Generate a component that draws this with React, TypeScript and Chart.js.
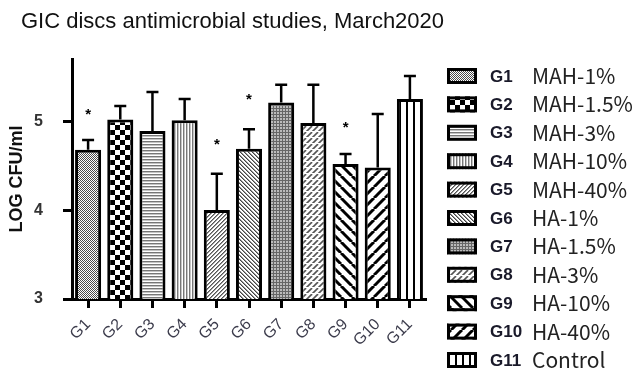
import { useEffect, useRef } from 'react';
import { Chart, registerables } from 'chart.js';
Chart.register(...registerables);

const FONT = '"Liberation Sans", Arial, sans-serif';
const CJK = '"Noto Sans CJK SC", "Noto Sans", sans-serif';

const chartTitle = 'GIC discs antimicrobial studies, March2020';
const yAxisTitle = 'LOG CFU/ml';
const groups = ['G1', 'G2', 'G3', 'G4', 'G5', 'G6', 'G7', 'G8', 'G9', 'G10', 'G11'];
const descriptions = ['MAH-1%', 'MAH-1.5%', 'MAH-3%', 'MAH-10%', 'MAH-40%', 'HA-1%', 'HA-1.5%', 'HA-3%', 'HA-10%', 'HA-40%', 'Control'];
const means = [4.68, 5.02, 4.89, 5.01, 4.0, 4.69, 5.21, 4.98, 4.52, 4.48, 5.25];
const upperError = [4.79, 5.17, 5.33, 5.25, 4.41, 4.91, 5.41, 5.41, 4.63, 5.08, 5.51];
const starValues: (number | null)[] = [5.1, null, null, null, 4.77, 5.27, null, null, 4.96, null, null];
const yTicks = [3, 4, 5];
const patternKinds = ['fineCheck', 'bigCheck', 'hLines', 'vLines', 'diagUpThin', 'diagDownThin', 'grid', 'diagDashed', 'diagDownThick', 'diagUpThick', 'vBars'];

function makePattern(ctx: CanvasRenderingContext2D, kind: string): CanvasPattern {
  const c = document.createElement('canvas');
  let w = 4, h = 4;
  if (kind === 'bigCheck') { w = 10; h = 10; }
  if (kind === 'hLines') { w = 3; h = 3; }
  if (kind === 'vLines') { w = 3; h = 3; }
  if (kind === 'grid') { w = 3; h = 3; }
  if (kind === 'diagDashed') { w = 6; h = 6; }
  if (kind === 'diagDownThick' || kind === 'diagUpThick') { w = 11; h = 11; }
  if (kind === 'vBars') { w = 7; h = 1; }
  c.width = w; c.height = h;
  const g = c.getContext('2d')!;
  g.fillStyle = '#fff';
  g.fillRect(0, 0, w, h);
  const px = (x: number, y: number, col: string) => { g.fillStyle = col; g.fillRect(x, y, 1, 1); };
  switch (kind) {
    case 'fineCheck':
      for (let y = 0; y < h; y++) for (let x = 0; x < w; x++) if ((x + y) % 2 === 0) px(x, y, '#4a4a4a');
      break;
    case 'bigCheck':
      g.fillStyle = '#000'; g.fillRect(0, 0, 5, 5); g.fillRect(5, 5, 5, 5);
      break;
    case 'hLines':
      g.fillStyle = '#777'; g.fillRect(0, 0, w, 1); g.fillStyle = '#c4c4c4'; g.fillRect(0, 1, w, 1);
      break;
    case 'vLines':
      g.fillStyle = '#777'; g.fillRect(0, 0, 1, h); g.fillStyle = '#c4c4c4'; g.fillRect(1, 0, 1, h);
      break;
    case 'diagUpThin':
      for (let y = 0; y < h; y++) for (let x = 0; x < w; x++) if ((x + y) % 4 === 3) px(x, y, '#555');
      for (let y = 0; y < h; y++) for (let x = 0; x < w; x++) if ((x + y) % 4 === 0) px(x, y, '#999');
      break;
    case 'diagDownThin':
      for (let y = 0; y < h; y++) for (let x = 0; x < w; x++) if ((x - y + 8) % 4 === 0) px(x, y, '#444');
      for (let y = 0; y < h; y++) for (let x = 0; x < w; x++) if ((x - y + 8) % 4 === 1) px(x, y, '#999');
      break;
    case 'grid':
      g.fillStyle = '#666'; g.fillRect(0, 0, w, 1); g.fillRect(0, 0, 1, h);
      g.fillStyle = '#bbb'; g.fillRect(1, 1, 2, 2);
      break;
    case 'diagDashed':
      g.strokeStyle = '#555'; g.lineWidth = 1.6;
      for (const k of [-6, 0, 6]) { g.beginPath(); g.moveTo(k, 6); g.lineTo(k + 6, 0); g.stroke(); }
      g.fillStyle = '#fff'; g.fillRect(0, 5, w, 1);
      break;
    case 'diagDownThick':
      g.strokeStyle = '#000'; g.lineWidth = 3;
      for (const k of [-11, 0, 11]) { g.beginPath(); g.moveTo(k, 0); g.lineTo(k + 11, 11); g.stroke(); }
      break;
    case 'diagUpThick':
      g.strokeStyle = '#000'; g.lineWidth = 3;
      for (const k of [-11, 0, 11]) { g.beginPath(); g.moveTo(k, 11); g.lineTo(k + 11, 0); g.stroke(); }
      break;
    case 'vBars':
      g.fillStyle = '#000'; g.fillRect(0, 0, 2, h);
      break;
  }
  return ctx.createPattern(c, 'repeat')!;
}

export default function App() {
  const ref = useRef<HTMLCanvasElement | null>(null);
  useEffect(() => {
    const canvas = ref.current!;
    const ctx = canvas.getContext('2d')!;
    const patterns = patternKinds.map((k) => makePattern(ctx, k));

    const extras = {
      id: 'extras',
      afterDatasetsDraw(chart: any) {
        const c = chart.ctx as CanvasRenderingContext2D;
        const ys = chart.scales.y;
        const meta = chart.getDatasetMeta(0);
        c.save();
        c.strokeStyle = '#000';
        c.lineWidth = 2.5;
        meta.data.forEach((bar: any, i: number) => {
          const top = ys.getPixelForValue(upperError[i]);
          c.beginPath();
          c.moveTo(bar.x, bar.y);
          c.lineTo(bar.x, top);
          c.moveTo(bar.x - 6, top);
          c.lineTo(bar.x + 6, top);
          c.stroke();
          const s = starValues[i];
          if (s !== null) {
            c.fillStyle = '#000';
            c.font = `bold 15px ${FONT}`;
            c.textAlign = 'center';
            c.textBaseline = 'middle';
            c.fillText('*', bar.x, ys.getPixelForValue(s) + 3);
          }
        });
        c.restore();
      },
      afterDraw(chart: any) {
        const c = chart.ctx as CanvasRenderingContext2D;
        c.save();
        c.fillStyle = '#111';
        c.font = `22px ${FONT}`;
        c.textAlign = 'left';
        c.textBaseline = 'alphabetic';
        c.fillText(chartTitle, 21, 28);
        // legend
        groups.forEach((g, i) => {
          const cy = 76 + i * 28.4;
          c.fillStyle = patterns[i];
          c.fillRect(447, cy - 8, 30, 16);
          c.strokeStyle = '#000';
          c.lineWidth = 3;
          c.strokeRect(448.5, cy - 6.5, 27, 13);
          c.fillStyle = '#1a1a2a';
          c.font = `bold 17px ${FONT}`;
          c.textBaseline = 'middle';
          c.fillText(g, 490, cy + 1);
          const gw = c.measureText(g).width;
          c.fillStyle = '#222';
          c.font = `21px ${CJK}`;
          c.fillText(descriptions[i], Math.max(532, 490 + gw + 1), cy);
        });
        c.restore();
      },
    };

    const chart = new Chart(canvas, {
      type: 'bar',
      data: {
        labels: groups,
        datasets: [{
          data: means,
          backgroundColor: patterns,
          borderColor: '#000',
          borderWidth: 3,
          barPercentage: 0.81,
          categoryPercentage: 1,
        }],
      },
      options: {
        responsive: false,
        animation: false,
        layout: { padding: { left: 4, right: 208, top: 59, bottom: 0 } },
        plugins: { legend: { display: false }, title: { display: false }, tooltip: { enabled: false } },
        scales: {
          x: {
            offset: true,
            border: { display: true, color: '#000', width: 3 },
            grid: { display: true, drawOnChartArea: false, drawTicks: true, tickLength: 9, tickWidth: 3, tickColor: '#000', offset: false },
            ticks: { minRotation: 45, maxRotation: 45, padding: 7, color: '#3c3c4c', font: { size: 16, family: FONT } },
            afterFit: (s: any) => { s.height = 73; },
          },
          y: {
            min: 3,
            max: 5.7,
            afterBuildTicks: (s: any) => { s.ticks = yTicks.map((v) => ({ value: v })); },
            afterFit: (s: any) => { s.width = 68; },
            border: { display: true, color: '#000', width: 3 },
            grid: { display: true, drawOnChartArea: false, drawTicks: true, tickLength: 9, tickWidth: 3, tickColor: '#000' },
            ticks: { padding: 20, color: '#333', font: { size: 16, weight: 'bold', family: FONT } },
            title: { display: true, text: yAxisTitle, color: '#111', padding: { top: 2, bottom: 0 }, font: { size: 18, weight: 'bold', family: FONT } },
          },
        },
      },
      plugins: [extras],
    } as any);
    return () => chart.destroy();
  }, []);
  return (
    <div style={{ position: 'fixed', left: 0, top: 0, width: 634, height: 372, background: '#fff' }}>
      <canvas ref={ref} width={634} height={372} style={{ display: 'block' }} />
    </div>
  );
}
